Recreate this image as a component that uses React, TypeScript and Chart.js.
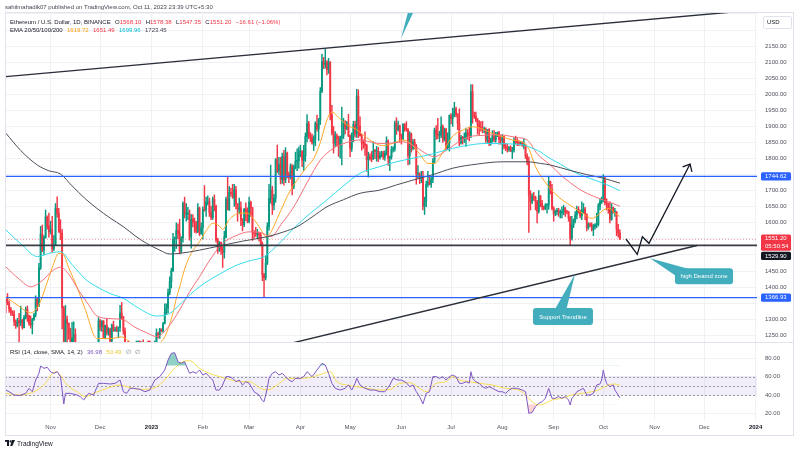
import React, { useEffect, useRef } from 'react';
import { Chart, registerables } from 'chart.js';

Chart.register(...registerables);

const FONT = "'Liberation Sans', Arial, Helvetica, sans-serif";
const UP = '#089981';
const DOWN = '#f23645';
const GRID = '#eff1f5';
const AXIS_TEXT = '#50535e';
const CALLOUT = '#41adbd';

// Day numbers: 0 = 1 Jan 2023. First candle = 5 Oct 2022.
const firstCandleDay = -88;

// Daily candles [open, high, low, close]
const oct2022 = [
  [1362,1365,1320,1352],[1352,1380,1345,1351],[1351,1357,1321,1331],[1331,1337,1312,1322],[1322,1326,1311,1316],
  [1316,1327,1280,1292],[1292,1298,1271,1280],[1280,1303,1276,1296],[1296,1318,1190,1288],[1288,1341,1280,1297],
  [1297,1300,1269,1274],[1274,1312,1273,1305],[1305,1338,1301,1331],[1331,1341,1293,1310],[1310,1313,1281,1286],
  [1286,1310,1272,1282],[1282,1303,1254,1299],[1299,1318,1296,1314],[1314,1373,1307,1363],[1363,1368,1326,1344],
  [1344,1474,1339,1460],[1460,1589,1455,1565],[1565,1593,1510,1515],[1515,1560,1500,1555],[1555,1640,1552,1618],
  [1618,1622,1580,1590],[1590,1630,1555,1572],
];
const nov2022 = [
  [1572,1605,1565,1579],[1579,1620,1508,1519],[1519,1560,1513,1531],[1531,1660,1529,1645],[1645,1681,1618,1629],
  [1629,1645,1570,1572],[1572,1610,1548,1568],[1568,1580,1270,1335],[1335,1340,1075,1100],[1100,1343,1095,1299],
  [1299,1310,1210,1287],[1287,1289,1238,1256],[1256,1272,1200,1220],[1220,1290,1170,1241],[1241,1292,1230,1252],
  [1252,1270,1196,1215],[1215,1226,1185,1200],[1200,1228,1196,1212],[1212,1227,1205,1218],[1218,1224,1135,1142],
  [1142,1150,1073,1108],[1108,1136,1081,1134],[1134,1185,1128,1182],[1182,1218,1176,1203],[1203,1208,1172,1199],
  [1199,1224,1195,1206],[1206,1223,1193,1194],[1194,1199,1151,1170],[1170,1228,1162,1218],[1218,1305,1213,1295],
];
const dec2022 = [
  [1295,1300,1264,1276],[1276,1296,1262,1294],[1294,1296,1240,1242],[1242,1282,1239,1280],[1280,1302,1251,1258],
  [1258,1274,1250,1270],[1270,1271,1218,1232],[1232,1285,1226,1282],[1282,1294,1262,1265],[1265,1275,1262,1265],
  [1265,1279,1261,1264],[1264,1276,1242,1274],[1274,1343,1262,1319],[1319,1352,1300,1308],[1308,1309,1253,1264],
  [1264,1273,1160,1168],[1168,1190,1161,1187],[1187,1195,1178,1184],[1184,1197,1160,1167],[1167,1228,1165,1217],
  [1217,1218,1201,1211],[1211,1222,1195,1217],[1217,1228,1212,1220],[1220,1224,1216,1220],[1220,1222,1206,1218],
  [1218,1230,1212,1226],[1226,1236,1204,1212],[1212,1214,1185,1189],[1189,1205,1186,1200],[1200,1201,1191,1199],
  [1199,1205,1192,1196],
];
const jan2023 = [
  [1196,1203,1192,1200],[1200,1220,1195,1214],[1214,1220,1206,1214],[1214,1270,1211,1256],[1256,1260,1241,1251],
  [1251,1272,1240,1269],[1269,1270,1261,1264],[1264,1290,1259,1287],[1287,1348,1285,1321],[1321,1348,1315,1336],
  [1336,1394,1319,1383],[1383,1432,1376,1417],[1417,1459,1397,1451],[1451,1567,1448,1549],[1549,1556,1511,1551],
  [1551,1600,1520,1576],[1576,1597,1550,1566],[1566,1611,1503,1512],[1512,1557,1506,1553],[1553,1665,1540,1660],
  [1660,1680,1615,1627],[1627,1660,1605,1628],[1628,1648,1610,1628],[1628,1640,1546,1556],[1556,1626,1521,1612],
  [1612,1626,1587,1603],[1603,1615,1570,1598],[1598,1605,1568,1573],[1573,1660,1569,1646],[1646,1649,1560,1567],
  [1567,1600,1564,1585],
];
const feb2023 = [
  [1585,1650,1550,1642],[1642,1716,1636,1640],[1640,1680,1620,1664],[1664,1684,1656,1666],[1666,1677,1620,1632],
  [1632,1651,1610,1617],[1617,1680,1611,1673],[1673,1687,1637,1651],[1651,1655,1540,1547],[1547,1552,1505,1515],
  [1515,1542,1511,1539],[1539,1540,1502,1515],[1515,1526,1461,1507],[1507,1574,1490,1556],[1556,1680,1553,1673],
  [1673,1742,1640,1641],[1641,1713,1638,1695],[1695,1708,1683,1692],[1692,1720,1676,1679],[1679,1720,1651,1703],
  [1703,1714,1643,1659],[1659,1660,1605,1642],[1642,1677,1628,1647],[1647,1665,1591,1609],[1609,1613,1575,1594],
  [1594,1645,1588,1642],[1642,1662,1607,1635],[1635,1647,1600,1605],
];
const mar2023 = [
  [1605,1680,1600,1664],[1664,1668,1620,1647],[1647,1648,1545,1570],[1570,1576,1552,1568],[1568,1586,1558,1563],
  [1563,1580,1551,1565],[1565,1571,1543,1562],[1562,1568,1528,1534],[1534,1540,1420,1438],[1438,1443,1368,1429],
  [1429,1495,1422,1475],[1475,1600,1470,1589],[1589,1720,1577,1676],[1676,1780,1661,1702],[1702,1714,1626,1655],
  [1655,1689,1640,1677],[1677,1800,1664,1796],[1796,1842,1756,1761],[1761,1804,1750,1781],[1781,1804,1721,1735],
  [1735,1817,1723,1806],[1806,1826,1717,1734],[1734,1834,1725,1816],[1816,1820,1740,1750],[1750,1758,1725,1741],
  [1741,1784,1736,1777],[1777,1781,1687,1713],[1713,1780,1706,1773],[1773,1820,1768,1792],[1792,1830,1762,1793],
  [1793,1836,1770,1822],
];
const apr2023 = [
  [1822,1842,1806,1822],[1822,1825,1775,1795],[1795,1841,1763,1809],[1809,1880,1791,1869],[1869,1937,1852,1909],
  [1909,1916,1862,1872],[1872,1881,1853,1865],[1865,1876,1845,1849],[1849,1871,1825,1860],[1860,1915,1840,1909],
  [1909,1935,1885,1892],[1892,1925,1856,1920],[1920,2021,1906,2010],[2010,2125,2005,2102],[2102,2115,2080,2093],
  [2093,2141,2081,2100],[2100,2105,2060,2077],[2077,2112,2065,2100],[2100,2102,1920,1936],[1936,1966,1874,1880],
  [1880,1900,1817,1848],[1848,1884,1838,1871],[1871,1877,1840,1862],[1862,1870,1807,1842],[1842,1870,1801,1867],
  [1867,1960,1780,1870],[1870,1925,1862,1908],[1908,1918,1877,1894],[1894,1916,1890,1908],[1908,1938,1868,1871],
];
const may2023 = [
  [1871,1874,1806,1832],[1832,1880,1822,1871],[1871,1916,1852,1906],[1906,1917,1867,1876],[1876,2016,1866,1994],
  [1994,2014,1865,1900],[1900,1930,1870,1871],[1871,1875,1826,1850],[1850,1859,1832,1846],[1846,1883,1810,1841],
  [1841,1845,1760,1797],[1797,1820,1742,1806],[1806,1815,1795,1800],[1800,1822,1790,1799],[1799,1852,1797,1823],
  [1823,1829,1800,1822],[1822,1838,1792,1822],[1822,1835,1790,1802],[1802,1822,1798,1811],[1811,1823,1805,1817],
  [1817,1823,1797,1805],[1805,1824,1794,1817],[1817,1868,1811,1855],[1855,1858,1779,1801],[1801,1808,1762,1806],
  [1806,1838,1798,1829],[1829,1837,1820,1830],[1830,1917,1823,1910],[1910,1927,1875,1890],[1890,1917,1885,1902],
  [1902,1904,1852,1873],
];
const jun2023 = [
  [1873,1876,1845,1863],[1863,1908,1857,1907],[1907,1909,1885,1892],[1892,1915,1885,1891],[1891,1893,1780,1810],
  [1810,1884,1782,1877],[1877,1880,1820,1832],[1832,1860,1827,1851],[1851,1860,1830,1840],[1840,1844,1720,1752],
  [1752,1778,1740,1753],[1753,1756,1722,1741],[1741,1760,1725,1742],[1742,1760,1640,1652],[1652,1680,1626,1667],
  [1667,1730,1650,1720],[1720,1760,1712,1727],[1727,1745,1718,1720],[1720,1745,1710,1736],[1736,1800,1725,1792],
  [1792,1895,1785,1889],[1889,1903,1860,1875],[1875,1925,1862,1873],[1873,1885,1852,1873],[1873,1930,1865,1900],
  [1900,1905,1850,1860],[1860,1895,1855,1891],[1891,1894,1826,1833],[1833,1880,1828,1849],[1849,1936,1823,1934],
];
const jul2023 = [
  [1934,1940,1908,1925],[1925,1957,1900,1937],[1937,1975,1930,1955],[1955,1960,1930,1937],[1937,1940,1890,1910],
  [1910,1955,1840,1849],[1849,1872,1845,1867],[1867,1869,1845,1863],[1863,1880,1850,1864],[1864,1895,1838,1880],
  [1880,1890,1860,1878],[1878,1898,1855,1870],[1870,2030,1865,2008],[2008,2030,1910,1935],[1935,1945,1925,1932],
  [1932,1945,1915,1920],[1920,1925,1876,1908],[1908,1918,1872,1898],[1898,1915,1885,1892],[1892,1916,1880,1890],
  [1890,1898,1880,1891],[1891,1896,1850,1857],[1857,1890,1850,1890],[1890,1893,1840,1849],[1849,1864,1842,1859],
  [1859,1887,1851,1871],[1871,1887,1853,1858],[1858,1882,1850,1873],[1873,1883,1868,1880],[1880,1885,1845,1860],
  [1860,1872,1845,1857],
];
const aug2023 = [
  [1857,1875,1815,1869],[1869,1870,1830,1838],[1838,1847,1825,1835],[1835,1845,1820,1828],[1828,1838,1822,1834],
  [1834,1840,1822,1823],[1823,1835,1800,1826],[1826,1865,1820,1856],[1856,1870,1845,1855],[1855,1862,1840,1849],
  [1849,1855,1840,1846],[1846,1852,1842,1848],[1848,1852,1838,1841],[1841,1860,1830,1842],[1842,1845,1800,1807],
  [1807,1815,1780,1790],[1790,1805,1570,1686],[1686,1700,1640,1665],[1665,1691,1660,1682],[1682,1695,1670,1679],
  [1679,1683,1640,1666],[1666,1670,1600,1636],[1636,1700,1630,1684],[1684,1685,1650,1661],[1661,1670,1640,1650],
  [1650,1652,1640,1644],[1644,1660,1641,1654],[1654,1660,1630,1655],[1655,1745,1642,1729],[1729,1730,1690,1704],
  [1704,1720,1640,1645],
];
const sep2023 = [
  [1645,1650,1605,1628],[1628,1640,1622,1635],[1635,1645,1625,1638],[1638,1645,1620,1631],[1631,1640,1615,1631],
  [1631,1650,1615,1634],[1634,1655,1625,1646],[1646,1648,1620,1635],[1635,1638,1628,1634],[1634,1636,1605,1616],
  [1616,1620,1531,1552],[1552,1620,1546,1593],[1593,1612,1585,1607],[1607,1635,1600,1625],[1625,1652,1612,1642],
  [1642,1650,1630,1636],[1636,1640,1615,1622],[1622,1665,1610,1638],[1638,1660,1630,1643],[1643,1648,1610,1626],
  [1626,1628,1575,1585],[1585,1600,1580,1594],[1594,1600,1588,1593],[1593,1600,1575,1579],[1579,1595,1560,1588],
  [1588,1598,1580,1594],[1594,1630,1585,1595],[1595,1660,1590,1653],[1653,1675,1640,1666],[1666,1680,1660,1671],
];
const oct2023 = [
  [1671,1750,1665,1733],[1733,1745,1656,1663],[1663,1675,1640,1658],[1658,1662,1630,1647],[1647,1665,1600,1611],
  [1611,1660,1608,1647],[1647,1650,1630,1633],[1633,1645,1620,1633],[1633,1636,1560,1580],[1580,1595,1555,1567.81],
  [1568.10,1578.38,1547.35,1551.20],
];

// EMA readings [day, value]
const ema20 = [
  [-88,1370],[-80,1340],[-73,1320],[-68,1345],[-64,1400],[-60,1460],[-56,1505],[-53,1500],[-50,1460],[-45,1400],
  [-40,1330],[-33,1240],[-25,1240],[-18,1245],[-12,1225],[-5,1215],[0,1212],[4,1222],[8,1245],[11,1285],
  [13,1320],[15,1365],[17,1400],[20,1456],[24,1505],[29,1541],[33,1575],[37,1599],[41,1590],[43,1580],
  [47,1610],[53,1630],[58,1630],[62,1610],[66,1580],[69,1557],[72,1570],[76,1614],[80,1660],[84,1702],
  [89,1740],[94,1775],[98,1800],[102,1850],[106,1920],[109,1945],[113,1928],[118,1905],[124,1890],[130,1865],
  [135,1848],[140,1840],[146,1848],[152,1858],[157,1845],[162,1815],[167,1785],[171,1785],[176,1820],[182,1870],
  [188,1888],[194,1899],[200,1892],[206,1878],[212,1868],[218,1858],[224,1852],[228,1830],[232,1775],[237,1733],
  [242,1700],[248,1672],[255,1648],[261,1628],[266,1614],[270,1625],[273,1640],[277,1645],[280,1630],[283,1619.72],
];
const ema50 = [
  [-88,1463],[-80,1425],[-73,1401],[-66,1420],[-60,1450],[-55,1462],[-50,1440],[-44,1390],[-38,1345],[-33,1310],
  [-25,1302],[-17,1298],[-10,1275],[-3,1258],[3,1246],[10,1275],[17,1329],[23,1385],[29,1432],[36,1490],
  [43,1536],[51,1560],[59,1572],[66,1570],[72,1557],[79,1600],[86,1650],[94,1725],[102,1795],[110,1832],
  [118,1850],[126,1858],[132,1852],[138,1847],[145,1848],[152,1852],[160,1835],[167,1812],[171,1806],[178,1825],
  [185,1850],[192,1868],[200,1872],[207,1874],[213,1873],[220,1866],[227,1858],[233,1815],[241,1780],[247,1750],
  [253,1725],[260,1700],[267,1683],[273,1671],[278,1662],[283,1651.49],
];
const ema100 = [
  [-88,1578],[-78,1530],[-69,1495],[-62,1505],[-55,1510],[-48,1470],[-40,1425],[-33,1401],[-25,1380],[-17,1365],
  [-8,1335],[3,1310],[11,1318],[17,1345],[23,1375],[29,1401],[35,1422],[41,1440],[50,1465],[58,1480],
  [68,1495],[77,1535],[86,1583],[96,1630],[106,1671],[116,1715],[126,1754],[138,1775],[148,1790],[158,1801],
  [170,1815],[182,1832],[192,1842],[202,1847],[214,1846],[225,1842],[231,1830],[235,1821],[239,1806],[247,1783],
  [255,1759],[264,1740],[273,1723],[278,1712],[283,1699.96],
];
const ema200 = [
  [-88,1879],[-79,1825],[-69,1780],[-62,1762],[-55,1752],[-48,1715],[-40,1675],[-33,1645],[-25,1615],[-17,1588],
  [-10,1560],[-3,1536],[5,1515],[11,1503],[17,1505],[29,1515],[41,1528],[55,1543],[70,1557],[80,1572],
  [88,1588],[97,1618],[106,1650],[116,1672],[126,1692],[138,1702],[148,1718],[158,1733],[170,1750],[182,1770],
  [197,1783],[212,1790],[227,1790],[235,1785],[241,1780],[253,1763],[263,1750],[273,1739],[283,1723.45],
];

// RSI(14) readings [day, value] and its SMA(14)
const rsiValues = [
  [-88,45.4],[-86,43.6],[-83,40],[-80,39.3],[-76,41.8],[-74,47.3],[-72,43.6],[-70,56.3],[-68,63.6],[-67,71.6],
  [-65,69.1],[-63,70.2],[-61,65.4],[-59,63.6],[-57,65.4],[-55,60],[-54,45.4],[-53,30.2],[-52,41.8],[-49,41.8],
  [-45,40],[-43,38.2],[-41,34.6],[-38,41.8],[-35,40],[-32,52.7],[-29,52.7],[-25,52],[-22,52.7],[-19,56.3],
  [-17,43.6],[-15,41.8],[-13,47.3],[-11,47.3],[-7,46.2],[-4,43.6],[-1,45.4],[2,56.3],[5,60],[8,67.2],
  [10,78.1],[12,85.4],[14,86.1],[16,76.3],[18,74.5],[20,76.3],[23,63.6],[25,65.4],[27,63.6],[29,67.2],
  [31,61.8],[33,63.6],[35,60],[37,56.3],[39,45.4],[41,45.4],[43,50.9],[45,60],[47,60],[49,58.2],
  [51,54.5],[53,56.3],[55,50.9],[57,54.5],[59,52.7],[62,43.6],[65,40],[67,34],[68,32.7],[69,40],
  [70,48],[71,58.2],[73,63.6],[75,65.4],[77,61.8],[79,63.6],[81,60],[83,56.3],[85,54.5],[87,58.2],
  [90,58.2],[92,60],[94,65.4],[97,60],[100,67.2],[103,74.5],[105,72.7],[107,63.6],[109,52.7],[111,47.3],
  [114,45.4],[117,47.3],[119,50.9],[121,45.4],[123,52.7],[124,58.2],[126,50.9],[129,47.3],[132,45.4],[135,45.4],
  [138,43.6],[141,43.6],[144,50.9],[146,58.2],[149,56.3],[151,56.3],[154,53.4],[156,49.1],[158,50.9],[160,43.6],
  [162,38.2],[164,30.2],[166,41.8],[168,43.6],[170,60],[172,60],[174,58.2],[176,60],[178,56.3],[180,60],
  [182,61.8],[184,60],[186,52.7],[188,52.7],[190,54.5],[192,53],[193,65.4],[194,58],[196,54.5],[198,52.7],
  [200,49.1],[202,47.3],[204,49.1],[206,47.3],[208,45.4],[210,43.6],[212,43.6],[214,41.8],[216,45.4],[218,47.3],
  [221,47.3],[224,45.4],[226,43.6],[227,32.7],[228,20],[230,21],[232,27.3],[234,30.9],[236,32.7],[238,36.4],
  [240,47.3],[241,41.8],[242,36.4],[244,36.4],[246,38.2],[248,36.4],[250,38.2],[252,34.6],[253,29.1],[254,36.4],
  [255,38.2],[257,43.6],[259,45.4],[261,47.3],[262,43.6],[263,40],[265,40],[267,41.8],[269,50.9],[271,52],
  [272,56.3],[273,67.2],[274,58.2],[275,52.7],[277,49.1],[279,50.9],[280,45.4],[282,40],[283,36.98],
];
const rsiMa = [
  [-88,41.8],[-80,40],[-71,43.6],[-65,50.9],[-58,65.4],[-56,63.6],[-51,50.9],[-45,43.6],[-40,38.2],[-35,41.8],
  [-27,47.3],[-19,50.9],[-15,49.1],[-7,46.2],[1,47.3],[7,54.5],[13,67.2],[19,76.3],[23,77.4],[29,69.1],
  [35,63.6],[45,58.2],[53,54.5],[59,54.5],[66,47.3],[70,45.4],[76,50.9],[82,58.2],[90,58.2],[98,60],
  [104,63.6],[108,65.4],[112,54.5],[118,50.9],[124,49.1],[130,47.3],[138,45.4],[144,46],[150,52.7],[156,53.4],
  [162,47.3],[166,43.6],[172,52.7],[178,54.5],[182,60],[186,56.3],[192,54.5],[198,52.7],[206,50.9],[214,47.3],
  [222,45.4],[226,40],[230,32.7],[234,29.1],[238,30.9],[242,34.6],[248,36.4],[254,40],[260,41.8],[266,43.6],
  [270,45.4],[276,50.9],[280,52],[283,50.49],
];

// Axis ticks
const monthDays = [-61, -31, 0, 31, 59, 90, 120, 151, 181, 212, 243, 273, 304, 334, 365];
const monthLabels = ['Nov', 'Dec', '2023', 'Feb', 'Mar', 'Apr', 'May', 'Jun', 'Jul', 'Aug', 'Sep', 'Oct', 'Nov', 'Dec', '2024'];
const priceTicks = [1250,1300,1350,1400,1450,1500,1550,1600,1650,1700,1750,1800,1850,1900,1950,2000,2050,2100,2150,2200,2250];
const rsiTicks = [20, 40, 60, 80];
const rsiBand = [40, 60];
const rsiMid = 50;

// Drawings (day, price)
const horizontalLevels = [
  { price: 1744.62, color: '#2962ff', width: 1.2 },
  { price: 1529.90, color: '#3a3d46', width: 1.6 },
  { price: 1366.93, color: '#2962ff', width: 1.2 },
];
const trendLines = [
  [[-88, 2055], [366, 2263]],
  [[85, 1226], [329.6, 1529.4]],
];
const projection = [[286.7, 1549.7], [293.5, 1502], [296.6, 1556.8], [300.6, 1536.3], [325.4, 1783]];
const callouts = [
  { text: 'high Deamd zone', tip: [301.2, 1489.6], anchor: [316.3, 1458.5], w: 58, h: 16, base: [[3, 9], [15, 1]] },
  { text: 'Support Trendline', tip: [255.9, 1440.7], anchor: [230.5, 1334.9], w: 60, h: 17, base: [[21, 3], [33, 3]] },
  { text: '', tip: [150.8, 2174.3], anchor: null, w: 0, h: 0, base: [[9, -34], [16, -34]] },
];

const lastCandle = oct2023[oct2023.length - 1];
const lastClose = lastCandle[3];
const prevClose = oct2023[oct2023.length - 2][3];
const axisMarkers = [
  { price: 1744.62, lines: ['1744.62'], bg: '#2962ff' },
  { price: lastClose, lines: [lastClose.toFixed(2), '05:50:54'], bg: '#f23645' },
  { price: 1529.90, lines: ['1529.90'], bg: '#131722' },
  { price: 1366.93, lines: ['1366.93'], bg: '#2962ff' },
];

// visible ranges
const X_MIN = -88.52, X_MAX = 365.86;
const P_MIN = 1229.1, P_MAX = 2256.2;
const R_MIN = 12.75, R_MAX = 96.7;

function seg(ctx: any, x1: number, y1: number, x2: number, y2: number) {
  ctx.beginPath(); ctx.moveTo(x1, y1); ctx.lineTo(x2, y2); ctx.stroke();
}
function rr(ctx: any, x: number, y: number, w: number, h: number, r: number) {
  ctx.beginPath();
  ctx.moveTo(x + r, y);
  ctx.arcTo(x + w, y, x + w, y + h, r);
  ctx.arcTo(x + w, y + h, x, y + h, r);
  ctx.arcTo(x, y + h, x, y, r);
  ctx.arcTo(x, y, x + w, y, r);
  ctx.closePath();
}

const drawingsPlugin = {
  id: 'tvDrawings',
  afterDatasetsDraw(chart: any) {
    const { ctx, chartArea: a, scales } = chart;
    const X = (d: number) => scales.x.getPixelForValue(d);
    const Y = (p: number) => scales.y.getPixelForValue(p);
    ctx.save();
    ctx.beginPath(); ctx.rect(a.left, a.top, a.right - a.left, a.bottom - a.top); ctx.clip();

    ctx.strokeStyle = 'rgba(242,54,69,0.45)'; ctx.lineWidth = 1; ctx.setLineDash([1, 2]);
    const ly = Math.round(Y(lastClose)) + 0.5;
    seg(ctx, a.left, ly, a.right, ly);
    ctx.setLineDash([]);

    for (const h of horizontalLevels) {
      ctx.strokeStyle = h.color; ctx.lineWidth = h.width;
      const yy = Y(h.price);
      seg(ctx, a.left, yy, a.right, yy);
    }

    ctx.strokeStyle = '#2a2e39'; ctx.lineWidth = 1.4;
    for (const t of trendLines) seg(ctx, X(t[0][0]), Y(t[0][1]), X(t[1][0]), Y(t[1][1]));

    ctx.strokeStyle = '#131722'; ctx.lineWidth = 1.3; ctx.lineJoin = 'miter';
    ctx.beginPath();
    projection.forEach(([d, p], i) => (i ? ctx.lineTo(X(d), Y(p)) : ctx.moveTo(X(d), Y(p))));
    ctx.stroke();
    const n = projection.length;
    const tx = X(projection[n - 1][0]), ty = Y(projection[n - 1][1]);
    const ang = Math.atan2(ty - Y(projection[n - 2][1]), tx - X(projection[n - 2][0]));
    ctx.beginPath();
    ctx.moveTo(tx + 8 * Math.cos(ang + Math.PI - 0.72), ty + 8 * Math.sin(ang + Math.PI - 0.72));
    ctx.lineTo(tx, ty);
    ctx.lineTo(tx + 8 * Math.cos(ang + Math.PI + 0.72), ty + 8 * Math.sin(ang + Math.PI + 0.72));
    ctx.stroke();

    for (const c of callouts) {
      const tipX = X(c.tip[0]), tipY = Y(c.tip[1]);
      const bx = c.anchor ? X(c.anchor[0]) : tipX;
      const by = c.anchor ? Y(c.anchor[1]) : tipY;
      ctx.fillStyle = CALLOUT;
      ctx.beginPath();
      ctx.moveTo(tipX, tipY);
      ctx.lineTo(bx + c.base[0][0], by + c.base[0][1]);
      ctx.lineTo(bx + c.base[1][0], by + c.base[1][1]);
      ctx.closePath(); ctx.fill();
      if (c.anchor) {
        rr(ctx, bx, by, c.w, c.h, 3); ctx.fill();
        ctx.fillStyle = '#ffffff';
        ctx.font = `6px ${FONT}`; ctx.textAlign = 'center'; ctx.textBaseline = 'middle';
        ctx.fillText(c.text, bx + c.w / 2, by + c.h / 2 + 0.5);
      }
    }
    ctx.restore();

    ctx.save();
    ctx.font = `6px ${FONT}`; ctx.textBaseline = 'middle'; ctx.textAlign = 'left';
    const lineH = 8.2;
    const placed = axisMarkers
      .map((m) => ({ ...m, top: Y(m.price) - lineH / 2 }))
      .sort((p, q) => p.top - q.top);
    let prevBottom = -Infinity;
    for (const m of placed) {
      if (m.top < prevBottom + 1) m.top = prevBottom + 1;
      const h = lineH * m.lines.length;
      ctx.fillStyle = m.bg;
      rr(ctx, a.right + 4, m.top, 30, h, 1.5); ctx.fill();
      ctx.fillStyle = '#ffffff';
      m.lines.forEach((t, i) => ctx.fillText(t, a.right + 8, m.top + lineH * (i + 0.5)));
      prevBottom = m.top + h;
    }
    ctx.restore();
  },
};

const rsiBandPlugin = {
  id: 'rsiBand',
  beforeDatasetsDraw(chart: any) {
    const { ctx, chartArea: a, scales } = chart;
    const y = scales.y;
    const top = y.getPixelForValue(rsiBand[1]);
    const bot = y.getPixelForValue(rsiBand[0]);
    ctx.save();
    ctx.fillStyle = 'rgba(126,87,194,0.1)';
    ctx.fillRect(a.left, top, a.right - a.left, bot - top);
    ctx.strokeStyle = 'rgba(120,123,134,0.75)'; ctx.lineWidth = 1; ctx.setLineDash([2, 2]);
    for (const v of [rsiBand[1], rsiMid, rsiBand[0]]) {
      const yy = Math.round(y.getPixelForValue(v)) + 0.5;
      seg(ctx, a.left, yy, a.right, yy);
    }
    ctx.restore();
  },
};

const hiddenNear = axisMarkers.map((m) => m.price);
const monthLabel = (v: number) => {
  const i = monthDays.indexOf(v);
  return i >= 0 ? monthLabels[i] : '';
};
const isYear = (v: any) => typeof v === 'number' && /^\d{4}$/.test(monthLabel(v));
const tickValue = (c: any) => (c && c.tick ? c.tick.value : undefined);

function xScale(showLabels: boolean) {
  return {
    type: 'linear',
    min: X_MIN,
    max: X_MAX,
    offset: false,
    grid: { color: GRID, drawTicks: false, offset: false },
    border: { display: false },
    ticks: {
      display: showLabels,
      autoSkip: false,
      maxRotation: 0,
      padding: 4,
      color: (c: any) => (isYear(tickValue(c)) ? '#131722' : AXIS_TEXT),
      font: (c: any) => ({ size: 6, family: FONT, weight: isYear(tickValue(c)) ? 'bold' : 'normal' }),
      callback: (v: number) => monthLabel(v),
    },
    afterBuildTicks: (ax: any) => { ax.ticks = monthDays.map((v) => ({ value: v })); },
    afterFit: (ax: any) => { ax.height = showLabels ? 16 : 0; },
  };
}

function yScale(min: number, max: number, ticks: number[], label: (v: number) => string) {
  return {
    type: 'linear',
    position: 'right',
    min,
    max,
    grid: { color: GRID, drawTicks: true, tickLength: 8, tickColor: 'rgba(0,0,0,0)' },
    border: { display: false },
    ticks: {
      autoSkip: false,
      padding: 0,
      color: AXIS_TEXT,
      font: { size: 6, family: FONT, lineHeight: 1 },
      callback: label,
    },
    afterBuildTicks: (ax: any) => { ax.ticks = ticks.map((v) => ({ value: v })); },
    afterFit: (ax: any) => { ax.width = 43; },
  };
}

function mainConfig(): any {
  const candles = [oct2022, nov2022, dec2022, jan2023, feb2023, mar2023, apr2023, may2023, jun2023, jul2023, aug2023, sep2023, oct2023].flat();
  const colors = candles.map((c) => (c[3] >= c[0] ? UP : DOWN));
  const wicks = candles.map((c, i) => ({ x: firstCandleDay + i, y: [c[2], c[1]] }));
  const bodies = candles.map((c, i) => ({ x: firstCandleDay + i, y: [Math.min(c[0], c[3]), Math.max(c[0], c[3])] }));
  const line = (data: number[][], color: string) => ({
    type: 'line',
    data: data.map(([x, y]) => ({ x, y })),
    borderColor: color,
    borderWidth: 1,
    pointRadius: 0,
    cubicInterpolationMode: 'monotone',
    fill: false,
    order: 1,
  });
  return {
    type: 'bar',
    data: {
      datasets: [
        { type: 'bar', data: wicks, backgroundColor: colors, barThickness: 0.8, grouped: false, borderWidth: 0, order: 6 },
        { type: 'bar', data: bodies, backgroundColor: colors, barThickness: 1.2, grouped: false, borderWidth: 0, minBarLength: 1, order: 5 },
        line(ema200, '#4a4d57'),
        line(ema100, '#33dbeb'),
        line(ema50, '#f5707a'),
        line(ema20, '#ffa726'),
      ],
    },
    options: {
      responsive: false,
      animation: false,
      events: [],
      layout: { padding: { left: 5, right: 0, top: 0, bottom: 0 } },
      plugins: { legend: { display: false }, tooltip: { enabled: false } },
      scales: {
        x: xScale(false),
        y: yScale(P_MIN, P_MAX, priceTicks, (v: number) =>
          v >= 2200 || hiddenNear.some((h) => Math.abs(h - v) < 30) ? '' : v.toFixed(2)),
      },
    },
    plugins: [drawingsPlugin],
  };
}

function rsiConfig(): any {
  const pts = rsiValues.map(([x, y]) => ({ x, y }));
  return {
    type: 'line',
    data: {
      datasets: [
        {
          data: pts,
          borderColor: 'rgba(0,0,0,0)',
          borderWidth: 0,
          pointRadius: 0,
          fill: { target: { value: 30 }, above: 'rgba(0,0,0,0)', below: 'rgba(242,54,69,0.22)' },
          order: 3,
        },
        {
          data: pts,
          borderColor: '#7e57c2',
          borderWidth: 1,
          pointRadius: 0,
          fill: { target: { value: 72 }, above: 'rgba(8,153,129,0.45)', below: 'rgba(0,0,0,0)' },
          order: 1,
        },
        {
          data: rsiMa.map(([x, y]) => ({ x, y })),
          borderColor: '#f7dc4f',
          borderWidth: 1,
          pointRadius: 0,
          cubicInterpolationMode: 'monotone',
          fill: false,
          order: 2,
        },
      ],
    },
    options: {
      responsive: false,
      animation: false,
      events: [],
      layout: { padding: { left: 5, right: 0, top: 0, bottom: 0 } },
      plugins: { legend: { display: false }, tooltip: { enabled: false } },
      scales: {
        x: xScale(true),
        y: yScale(R_MIN, R_MAX, rsiTicks, (v: number) => v.toFixed(2)),
      },
    },
    plugins: [rsiBandPlugin],
  };
}

const RED = '#f23645';
const DARK = '#131722';

export default function App() {
  const mainRef = useRef<HTMLCanvasElement>(null);
  const rsiRef = useRef<HTMLCanvasElement>(null);

  useEffect(() => {
    const prev = document.body.style.margin;
    document.body.style.margin = '0';
    const main = new Chart(mainRef.current as HTMLCanvasElement, mainConfig());
    const rsi = new Chart(rsiRef.current as HTMLCanvasElement, rsiConfig());
    return () => {
      main.destroy();
      rsi.destroy();
      document.body.style.margin = prev;
    };
  }, []);

  const change = lastClose - prevClose;
  const pct = (change / prevClose) * 100;
  const fmt = (v: number) => (v < 0 ? '\u2212' : '') + Math.abs(v).toFixed(2);
  const lastVal = (arr: number[][]) => arr[arr.length - 1][1].toFixed(2);

  const text: React.CSSProperties = {
    position: 'absolute',
    fontSize: 6,
    lineHeight: '7px',
    whiteSpace: 'nowrap',
    fontFamily: FONT,
  };

  return (
    <div style={{ position: 'relative', width: 800, height: 453, overflow: 'hidden', background: '#ffffff', fontFamily: FONT }}>
      <canvas ref={mainRef} width={800} height={336} style={{ position: 'absolute', left: 0, top: 9, width: 800, height: 336 }} />
      <canvas ref={rsiRef} width={800} height={96} style={{ position: 'absolute', left: 0, top: 340, width: 800, height: 96 }} />

      <div style={{ position: 'absolute', left: 5, top: 12, width: 789, height: 424, border: '1px solid #e0e3eb', boxSizing: 'border-box', pointerEvents: 'none' }} />
      <div style={{ position: 'absolute', left: 5, top: 342, width: 789, height: 1, background: '#e0e3eb' }} />

      <div style={{ ...text, left: 5, top: 3.5, color: '#434651' }}>
        sahilmahadik07 published on TradingView.com, Oct 11, 2023 23:39 UTC+5:30
      </div>

      <div style={{ ...text, left: 10, top: 19, display: 'flex', gap: 4.3, color: DARK }}>
        <span>Ethereum / U.S. Dollar, 1D, BINANCE</span>
        <span>O<span style={{ color: RED }}>{lastCandle[0].toFixed(2)}</span></span>
        <span>H<span style={{ color: RED }}>{lastCandle[1].toFixed(2)}</span></span>
        <span>L<span style={{ color: RED }}>{lastCandle[2].toFixed(2)}</span></span>
        <span>C<span style={{ color: RED }}>{lastCandle[3].toFixed(2)}</span></span>
        <span style={{ color: RED }}>{fmt(change)} ({fmt(pct)}%)</span>
      </div>

      <div style={{ ...text, left: 10, top: 26.5, display: 'flex', gap: 4.3, color: DARK }}>
        <span>EMA 20/50/100/200</span>
        <span style={{ color: '#ff9800' }}>{lastVal(ema20)}</span>
        <span style={{ color: '#f23645' }}>{lastVal(ema50)}</span>
        <span style={{ color: '#00bcd4' }}>{lastVal(ema100)}</span>
        <span style={{ color: '#434651' }}>{lastVal(ema200)}</span>
      </div>

      <div style={{ position: 'absolute', left: 763, top: 16, width: 29, height: 13, border: '1px solid #e0e3eb', borderRadius: 2, background: '#ffffff', boxSizing: 'border-box', fontSize: 6, lineHeight: '11px', paddingLeft: 3, color: DARK }}>
        USD
      </div>

      <div style={{ ...text, left: 10, top: 349.2, display: 'flex', gap: 4.3, color: DARK }}>
        <span>RSI (14, close, SMA, 14, 2)</span>
        <span style={{ color: '#7e57c2' }}>{lastVal(rsiValues)}</span>
        <span style={{ color: '#e8c832' }}>{lastVal(rsiMa)}</span>
        <span style={{ color: '#787b86' }}>∅</span>
        <span style={{ color: '#787b86' }}>∅</span>
      </div>

      <div style={{ position: 'absolute', left: 5, top: 439.5, display: 'flex', alignItems: 'center', gap: 2 }}>
        <svg width="10" height="6" viewBox="0 0 10 6">
          <rect x="0" y="0" width="4" height="1.8" fill={DARK} />
          <rect x="2" y="0" width="2" height="6" fill={DARK} />
          <circle cx="5.6" cy="1.4" r="1.1" fill={DARK} />
          <polygon points="7,0 10,0 7.3,6 5.2,6" fill={DARK} />
        </svg>
        <span style={{ fontSize: 6.5, lineHeight: '7px', color: DARK, fontFamily: FONT }}>TradingView</span>
      </div>
    </div>
  );
}
